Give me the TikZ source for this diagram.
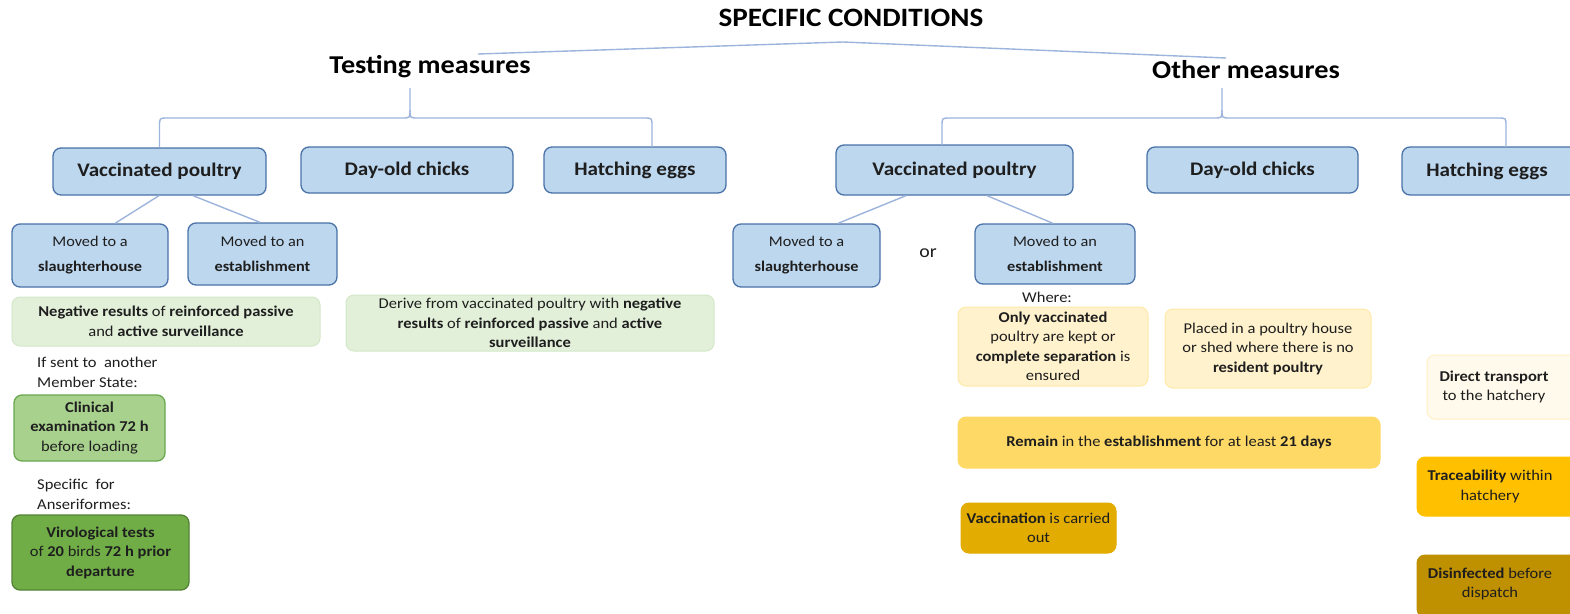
\documentclass[tikz,border=0pt]{standalone}
\usepackage{fontspec}
\setmainfont{Carlito}[FakeStretch=1.1]
\definecolor{bfill}{HTML}{BDD7EE}
\definecolor{bdraw}{HTML}{4A72A8}
\definecolor{lnc}{HTML}{9DB4DC}
\definecolor{txtc}{HTML}{1E1E1E}
\definecolor{g1f}{HTML}{E2F0D9}
\definecolor{g1d}{HTML}{D3E8C8}
\definecolor{g3f}{HTML}{A9D18E}
\definecolor{g3d}{HTML}{6AA84F}
\definecolor{g4f}{HTML}{70AD47}
\definecolor{g4d}{HTML}{548235}
\definecolor{y1f}{HTML}{FFF2CC}
\definecolor{y1d}{HTML}{FFE9A8}
\definecolor{y3f}{HTML}{FFFAEB}
\definecolor{y3d}{HTML}{FFF0C2}
\definecolor{y4f}{HTML}{FFD966}
\definecolor{y5f}{HTML}{FFC000}
\definecolor{y6f}{HTML}{E2AC00}
\definecolor{y7f}{HTML}{BF9000}
\begin{document}
\begin{tikzpicture}[x=1pt,y=-1pt,
  bx/.style={rounded corners=8pt, align=center, inner sep=0pt, text=txtc},
  bluebox/.style={bx, fill=bfill, draw=bdraw, line width=1.3pt, font=\bfseries\fontsize{19.2}{23}\selectfont},
  subbox/.style={bx, fill=bfill, draw=bdraw, line width=1.3pt, font=\fontsize{14.8}{25}\selectfont},
  small/.style={font=\fontsize{15}{19.5}\selectfont},
  gbox/.style={bx, small, line width=1pt},
  plain/.style={align=left, inner sep=0pt, text=txtc, small},
  conn/.style={draw=lnc, line width=1.4pt},
  head/.style={inner sep=0pt, text=black, font=\bfseries\fontsize{25.7}{28}\selectfont}]
\useasboundingbox (0,0) rectangle (1570,613);
\clip (0,0) rectangle (1570,613);
\fill[white] (0,0) rectangle (1570,613);

% headings
\node[inner sep=0pt, font=\bfseries\fontsize{26.5}{28}\selectfont] (title) at (851,18) {SPECIFIC CONDITIONS};
\node[head] (tm) at (430,67) {Testing measures};
\node[head] (om) at (1246,70) {Other measures};
\coordinate (tmtop) at (478,54);
\coordinate (apex) at (843,42);
\coordinate (omtop) at (1226,58);
\draw[conn] (tmtop) -- (apex) -- (omtop);

% blue boxes
\node[bluebox, minimum width=213, minimum height=47] (tvp) at (159.5,171.5) {Vaccinated poultry};
\node[bluebox, minimum width=212, minimum height=46] (tdoc) at (407,170) {Day-old chicks};
\node[bluebox, minimum width=182, minimum height=46] (the) at (635,170) {Hatching eggs};
\node[bluebox, minimum width=237, minimum height=50] (ovp) at (954.5,170) {Vaccinated poultry};
\node[bluebox, minimum width=211, minimum height=46] (odoc) at (1252.5,170) {Day-old chicks};
\node[bluebox, minimum width=200, minimum height=48] (ohe) at (1502,171) {};
\node[inner sep=0pt, text=txtc, font=\bfseries\fontsize{19.2}{23}\selectfont] (ohet) at (1487,171) {Hatching eggs};

% braces
\coordinate (tmb) at (410,88);
\coordinate (thet) at (652,147);
\draw[conn] (tvp.north) -- (159.5,126) .. controls (159.5,118) .. (167.5,118) -- (402,118) .. controls (410,118) .. (410,110) -- (tmb);
\draw[conn] (410,110) .. controls (410,118) .. (418,118) -- (644,118) .. controls (652,118) .. (652,126) -- (thet);
\coordinate (omb) at (1222,88);
\coordinate (ovpt) at (942,145);
\coordinate (ohet2) at (1506,147);
\draw[conn] (ovpt) -- (942,126) .. controls (942,118) .. (950,118) -- (1214,118) .. controls (1222,118) .. (1222,110) -- (omb);
\draw[conn] (1222,110) .. controls (1222,118) .. (1230,118) -- (1498,118) .. controls (1506,118) .. (1506,126) -- (ohet2);

% sub boxes
\node[subbox, minimum width=156, minimum height=63] (ts) at (90,255.5) {Moved to a\\\textbf{slaughterhouse}};
\node[subbox, minimum width=149, minimum height=62] (te) at (262.5,254) {Moved to an\\\textbf{establishment}};
\node[subbox, minimum width=147, minimum height=63] (os) at (806.5,255.5) {Moved to a\\\textbf{slaughterhouse}};
\node[subbox, minimum width=160, minimum height=60] (oe) at (1055,254) {Moved to an\\\textbf{establishment}};
\node[inner sep=0pt, text=txtc, font=\fontsize{18}{20}\selectfont] (or) at (928,253) {or};

\draw[conn] (tvp.south -| 159,0) -- (ts.north -| 115,0);
\draw[conn] (tvp.south -| 193,0) -- (te.north -| 260,0);
\draw[conn] (ovp.south -| 906,0) -- (os.north -| 838,0);
\draw[conn] (ovp.south -| 987,0) -- (oe.north -| 1053,0);

% green
\node[gbox, fill=g1f, draw=g1d, minimum width=308, minimum height=49] (g1) at (166,321.5)
  {\textbf{Negative results} of \textbf{reinforced passive}\\and \textbf{active surveillance}};
\node[gbox, fill=g1f, draw=g1d, minimum width=368, minimum height=56] (g2) at (530,323)
  {Derive from vaccinated poultry with \textbf{negative}\\\textbf{results} of \textbf{reinforced passive} and \textbf{active}\\\textbf{surveillance}};
\node[plain, anchor=west] (t1) at (37,372.5) {If sent to\ \ another\\Member State:};
\node[gbox, fill=g3f, draw=g3d, line width=1.3pt, minimum width=151, minimum height=66] (g3) at (89.5,428)
  {\textbf{Clinical}\\\textbf{examination 72 h}\\before loading};
\node[plain, anchor=west] (t2) at (37,494.5) {Specific\ \ for\\Anseriformes:};
\node[gbox, fill=g4f, draw=g4d, line width=1.3pt, minimum width=177, minimum height=75] (g4) at (100.5,552.5)
  {\textbf{Virological tests}\\of \textbf{20} birds \textbf{72 h prior}\\\textbf{departure}};

% yellow
\node[plain, align=center] (where) at (1047,297) {Where:};
\node[gbox, fill=y1f, draw=y1d, minimum width=190, minimum height=79] (y1) at (1053,346.5)
  {\textbf{Only vaccinated}\\poultry are kept or\\\textbf{complete separation} is\\ensured};
\node[gbox, fill=y1f, draw=y1d, minimum width=206, minimum height=79] (y2) at (1268,348.5)
  {Placed in a poultry house\\or shed where there is no\\\textbf{resident poultry}};
\node[gbox, fill=y3f, draw=y3d, minimum width=170, minimum height=64] (y3) at (1512,387) {};
\node[plain, align=center] (y3t) at (1494,387) {\textbf{Direct transport}\\to the hatchery};
\node[gbox, fill=y4f, draw=y4f, minimum width=422, minimum height=51] (y4) at (1169,442.5)
  {\textbf{Remain} in the \textbf{establishment} for at least \textbf{21 days}};
\node[gbox, fill=y5f, draw=y5f, minimum width=175, minimum height=59] (y5) at (1504.5,486.5) {};
\node[plain, align=center] (y5t) at (1490,486.5) {\textbf{Traceability} within\\hatchery};
\node[gbox, fill=y6f, draw=y6f, minimum width=155, minimum height=50] (y6) at (1038.5,528)
  {\textbf{Vaccination} is carried\\out};
\node[gbox, fill=y7f, draw=y7f, minimum width=175, minimum height=62] (y7) at (1504.5,586) {};
\node[plain, align=center] (y7t) at (1490,584) {\textbf{Disinfected} before\\dispatch};
\end{tikzpicture}
\end{document}
